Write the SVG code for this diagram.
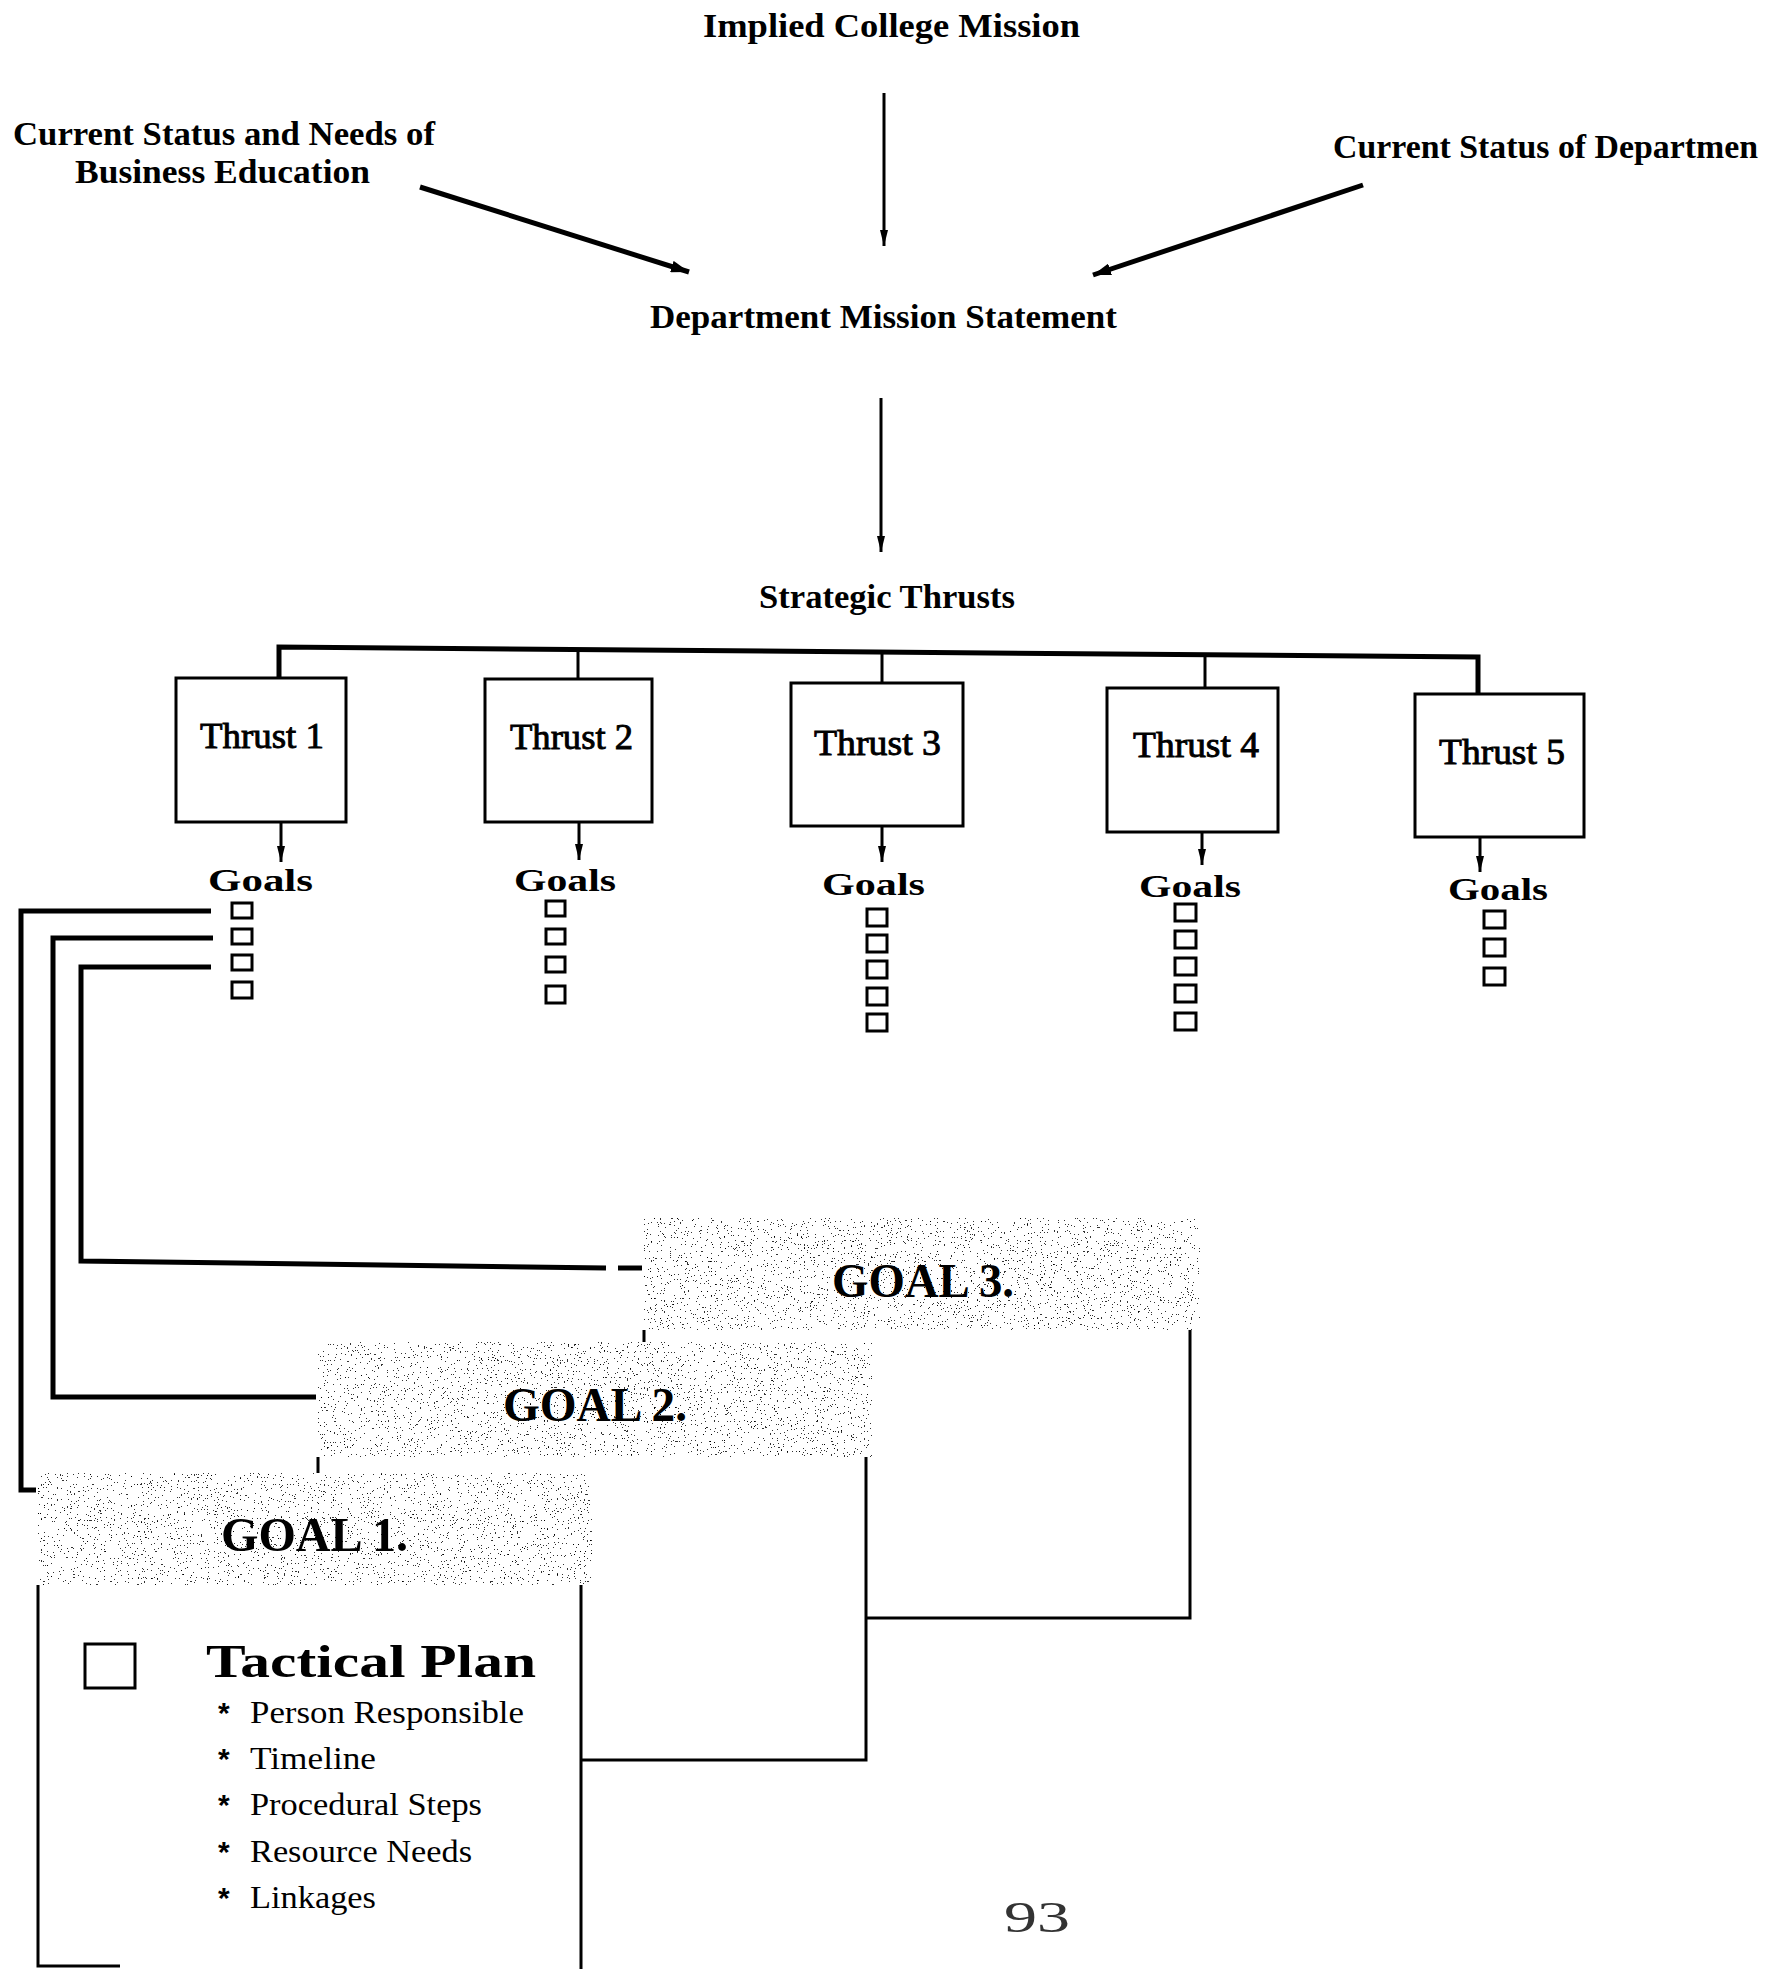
<svg xmlns="http://www.w3.org/2000/svg" width="1772" height="1969" viewBox="0 0 1772 1969">
<style>
.h{font-family:"Liberation Serif","Times New Roman",serif;font-weight:bold;font-size:34px;fill:#000}
.th{font-family:"Liberation Serif","Times New Roman",serif;font-size:36px;fill:#000;stroke:#000;stroke-width:0.9}
.gl{font-family:"Liberation Serif","Times New Roman",serif;font-weight:bold;font-size:32px;fill:#000}
.gh{font-family:"Liberation Serif","Times New Roman",serif;font-weight:bold;font-size:48px;fill:#000}
.tp{font-family:"Liberation Serif","Times New Roman",serif;font-weight:bold;font-size:46px;fill:#000}
.bl{font-family:"Liberation Serif","Times New Roman",serif;font-size:31px;fill:#000}
.ast{font-family:"Liberation Sans",Arial,sans-serif;font-weight:bold;font-size:30px;fill:#000}
.ln{fill:none;stroke:#000;stroke-width:3}
.thick{fill:none;stroke:#000;stroke-width:5}
.box{fill:#fff;stroke:#000;stroke-width:3}
.edge{fill:none;stroke:#000;stroke-width:3}
.sq{fill:#fff;stroke:#000;stroke-width:3}
.stip{fill:#000;filter:url(#stipple)}
</style>
<defs>
<marker id="ah" viewBox="0 0 16 8" refX="16" refY="4" markerWidth="16" markerHeight="8" markerUnits="userSpaceOnUse" orient="auto">
<path d="M0,0 L16,4 L0,8 z" fill="#000"/>
</marker>
<marker id="ahb" viewBox="0 0 18 12" refX="18" refY="6" markerWidth="18" markerHeight="12" markerUnits="userSpaceOnUse" orient="auto">
<path d="M0,0 L18,6 L0,12 z" fill="#000"/>
</marker>
<filter id="stipple" x="0" y="0" width="100%" height="100%">
<feTurbulence type="fractalNoise" baseFrequency="0.7" numOctaves="3" seed="7" result="n"/>
<feColorMatrix in="n" type="matrix" values="0 0 0 0 0  0 0 0 0 0  0 0 0 0 0  1 0 0 0 0" result="a"/>
<feComponentTransfer in="a" result="t"><feFuncA type="discrete" tableValues="0 0 0 0 0 0 0 0.8 1 1"/></feComponentTransfer>
<feComposite in="t" in2="SourceGraphic" operator="in"/>
</filter>
</defs>
<rect width="1772" height="1969" fill="#fff"/>

<g id="connectors">
<line class="ln" x1="884" y1="93" x2="884" y2="246" marker-end="url(#ah)"/>
<line class="thick" x1="420" y1="187" x2="689" y2="272" marker-end="url(#ahb)"/>
<line class="thick" x1="1363" y1="185" x2="1093" y2="275" marker-end="url(#ahb)"/>
<line class="ln" x1="881" y1="398" x2="881" y2="552" marker-end="url(#ah)"/>
<path class="thick" d="M279,678 V647 L1478,657 V694"/>
<line class="ln" x1="578" y1="650" x2="578" y2="679"/>
<line class="ln" x1="882" y1="652" x2="882" y2="683"/>
<line class="ln" x1="1205" y1="655" x2="1205" y2="688"/>
<line class="ln" x1="281" y1="822" x2="281" y2="862" marker-end="url(#ah)"/>
<line class="ln" x1="579" y1="822" x2="579" y2="860" marker-end="url(#ah)"/>
<line class="ln" x1="882" y1="826" x2="882" y2="862" marker-end="url(#ah)"/>
<line class="ln" x1="1202" y1="832" x2="1202" y2="865" marker-end="url(#ah)"/>
<line class="ln" x1="1480" y1="837" x2="1480" y2="872" marker-end="url(#ah)"/>
<path class="thick" d="M211,911 H21 V1490 H38"/>
<path class="thick" d="M213,938 H53 V1397 H318"/>
<path class="thick" d="M211,967 H81 V1261 L606,1268"/>
<line class="thick" x1="618" y1="1268" x2="644" y2="1268"/>
</g>

<g id="top-labels">
<text class="h" x="703" y="37" textLength="377" lengthAdjust="spacingAndGlyphs">Implied College Mission</text>
<text class="h" x="13" y="145" textLength="422" lengthAdjust="spacingAndGlyphs">Current Status and Needs of</text>
<text class="h" x="75" y="183" textLength="295" lengthAdjust="spacingAndGlyphs">Business Education</text>
<text class="h" x="1333" y="158" textLength="425" lengthAdjust="spacingAndGlyphs">Current Status of Departmen</text>
<text class="h" x="650" y="328" textLength="467" lengthAdjust="spacingAndGlyphs">Department Mission Statement</text>
<text class="h" x="759" y="608" textLength="256" lengthAdjust="spacingAndGlyphs">Strategic Thrusts</text>
</g>

<g id="thrust1">
<rect class="box" x="176" y="678" width="170" height="144"/>
<text class="th" x="200" y="748" textLength="124" lengthAdjust="spacingAndGlyphs">Thrust 1</text>
<text class="gl" x="208" y="891" textLength="105" lengthAdjust="spacingAndGlyphs">Goals</text>
<rect class="sq" x="232" y="903" width="20" height="15"/>
<rect class="sq" x="232" y="929" width="20" height="15"/>
<rect class="sq" x="232" y="955" width="20" height="15"/>
<rect class="sq" x="232" y="982" width="20" height="16"/>
</g>
<g id="thrust2">
<rect class="box" x="485" y="679" width="167" height="143"/>
<text class="th" x="510" y="749" textLength="123" lengthAdjust="spacingAndGlyphs">Thrust 2</text>
<text class="gl" x="514" y="891" textLength="102" lengthAdjust="spacingAndGlyphs">Goals</text>
<rect class="sq" x="546" y="901" width="19" height="15"/>
<rect class="sq" x="546" y="929" width="19" height="15"/>
<rect class="sq" x="546" y="957" width="19" height="15"/>
<rect class="sq" x="546" y="986" width="19" height="17"/>
</g>
<g id="thrust3">
<rect class="box" x="791" y="683" width="172" height="143"/>
<text class="th" x="814" y="755" textLength="127" lengthAdjust="spacingAndGlyphs">Thrust 3</text>
<text class="gl" x="822" y="895" textLength="103" lengthAdjust="spacingAndGlyphs">Goals</text>
<rect class="sq" x="867" y="909" width="20" height="17"/>
<rect class="sq" x="867" y="935" width="20" height="17"/>
<rect class="sq" x="867" y="961" width="20" height="17"/>
<rect class="sq" x="867" y="988" width="20" height="17"/>
<rect class="sq" x="867" y="1014" width="20" height="17"/>
</g>
<g id="thrust4">
<rect class="box" x="1107" y="688" width="171" height="144"/>
<text class="th" x="1133" y="757" textLength="126" lengthAdjust="spacingAndGlyphs">Thrust 4</text>
<text class="gl" x="1139" y="897" textLength="102" lengthAdjust="spacingAndGlyphs">Goals</text>
<rect class="sq" x="1175" y="904" width="21" height="17"/>
<rect class="sq" x="1175" y="931" width="21" height="17"/>
<rect class="sq" x="1175" y="958" width="21" height="17"/>
<rect class="sq" x="1175" y="985" width="21" height="17"/>
<rect class="sq" x="1175" y="1013" width="21" height="17"/>
</g>
<g id="thrust5">
<rect class="box" x="1415" y="694" width="169" height="143"/>
<text class="th" x="1439" y="764" textLength="126" lengthAdjust="spacingAndGlyphs">Thrust 5</text>
<text class="gl" x="1448" y="900" textLength="100" lengthAdjust="spacingAndGlyphs">Goals</text>
<rect class="sq" x="1484" y="911" width="21" height="17"/>
<rect class="sq" x="1484" y="939" width="21" height="17"/>
<rect class="sq" x="1484" y="968" width="21" height="17"/>
</g>

<g id="goal3">
<rect class="box" x="644" y="1240" width="546" height="378"/>
<rect x="642" y="1218" width="558" height="112" fill="#fff"/>
<rect class="stip" x="644" y="1218" width="556" height="112"/>
<text class="gh" x="832" y="1297" textLength="182" lengthAdjust="spacingAndGlyphs">GOAL 3.</text>
</g>
<g id="goal2">
<rect class="box" x="318" y="1360" width="548" height="400"/>
<rect x="316" y="1342" width="556" height="115" fill="#fff"/>
<rect class="stip" x="318" y="1342" width="554" height="115"/>
<text class="gh" x="503" y="1421" textLength="184" lengthAdjust="spacingAndGlyphs">GOAL 2.</text>
</g>
<g id="goal1">
<rect x="38" y="1490" width="543" height="479" fill="#fff"/>
<path class="edge" d="M38,1585 V1966 H120 M581,1585 V1969"/>
<rect x="36" y="1473" width="556" height="112" fill="#fff"/>
<rect class="stip" x="38" y="1473" width="554" height="112"/>
<text class="gh" x="221" y="1551" textLength="187" lengthAdjust="spacingAndGlyphs">GOAL 1.</text>
<rect class="sq" x="85" y="1644" width="50" height="44"/>
<text class="tp" x="206" y="1677" textLength="330" lengthAdjust="spacingAndGlyphs">Tactical Plan</text>
<text class="bl" x="218" y="1723"><tspan class="ast">*</tspan><tspan x="250" textLength="274" lengthAdjust="spacingAndGlyphs">Person Responsible</tspan></text>
<text class="bl" x="218" y="1769"><tspan class="ast">*</tspan><tspan x="250" textLength="126" lengthAdjust="spacingAndGlyphs">Timeline</tspan></text>
<text class="bl" x="218" y="1815"><tspan class="ast">*</tspan><tspan x="250" textLength="232" lengthAdjust="spacingAndGlyphs">Procedural Steps</tspan></text>
<text class="bl" x="218" y="1862"><tspan class="ast">*</tspan><tspan x="250" textLength="222" lengthAdjust="spacingAndGlyphs">Resource Needs</tspan></text>
<text class="bl" x="218" y="1908"><tspan class="ast">*</tspan><tspan x="250" textLength="126" lengthAdjust="spacingAndGlyphs">Linkages</tspan></text>
</g>

<text id="page-number" x="1004" y="1932" font-family="Liberation Serif, serif" font-size="44" fill="#333" textLength="66" lengthAdjust="spacingAndGlyphs">93</text>
</svg>
